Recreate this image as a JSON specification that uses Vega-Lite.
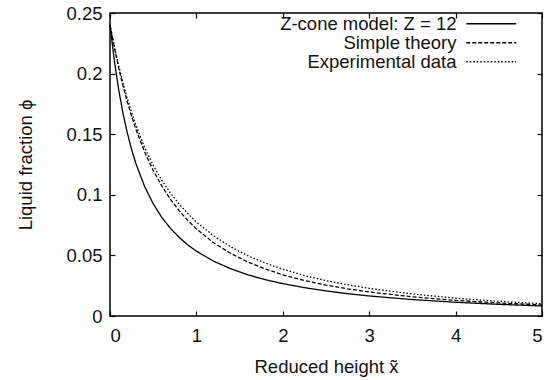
{
  "$schema": "https://vega.github.io/schema/vega-lite/v6.json",
  "width": 432,
  "height": 303,
  "autosize": "none",
  "padding": {"left": 110, "top": 13, "right": 16, "bottom": 64},
  "config": {
    "font": "Liberation Sans",
    "view": {"stroke": "#000", "strokeWidth": 1.5},
    "axis": {
      "grid": false, "domain": false, "tickColor": "#000", "tickSize": -5, "tickWidth": 1.2,
      "labelFontSize": 18.5, "labelColor": "#111", "labelFont": "Liberation Sans",
      "titleFontSize": 18.5, "titleFontWeight": "normal", "titleColor": "#111", "titleFont": "Liberation Sans"
    }
  },
  "data": {"values": [
    {"series": "Z-cone model: Z = 12", "x": 0, "phi": 0.2403},
    {"series": "Z-cone model: Z = 12", "x": 0.05, "phi": 0.2108},
    {"series": "Z-cone model: Z = 12", "x": 0.1, "phi": 0.187},
    {"series": "Z-cone model: Z = 12", "x": 0.15, "phi": 0.1674},
    {"series": "Z-cone model: Z = 12", "x": 0.2, "phi": 0.1511},
    {"series": "Z-cone model: Z = 12", "x": 0.25, "phi": 0.1374},
    {"series": "Z-cone model: Z = 12", "x": 0.3, "phi": 0.1257},
    {"series": "Z-cone model: Z = 12", "x": 0.4, "phi": 0.107},
    {"series": "Z-cone model: Z = 12", "x": 0.5, "phi": 0.0926},
    {"series": "Z-cone model: Z = 12", "x": 0.6, "phi": 0.0813},
    {"series": "Z-cone model: Z = 12", "x": 0.7, "phi": 0.0723},
    {"series": "Z-cone model: Z = 12", "x": 0.8, "phi": 0.0649},
    {"series": "Z-cone model: Z = 12", "x": 0.9, "phi": 0.0587},
    {"series": "Z-cone model: Z = 12", "x": 1.0, "phi": 0.0535},
    {"series": "Z-cone model: Z = 12", "x": 1.2, "phi": 0.0452},
    {"series": "Z-cone model: Z = 12", "x": 1.4, "phi": 0.0389},
    {"series": "Z-cone model: Z = 12", "x": 1.6, "phi": 0.0339},
    {"series": "Z-cone model: Z = 12", "x": 1.8, "phi": 0.0299},
    {"series": "Z-cone model: Z = 12", "x": 2.0, "phi": 0.0267},
    {"series": "Z-cone model: Z = 12", "x": 2.25, "phi": 0.0234},
    {"series": "Z-cone model: Z = 12", "x": 2.5, "phi": 0.0207},
    {"series": "Z-cone model: Z = 12", "x": 2.75, "phi": 0.0184},
    {"series": "Z-cone model: Z = 12", "x": 3.0, "phi": 0.01653},
    {"series": "Z-cone model: Z = 12", "x": 3.5, "phi": 0.01356},
    {"series": "Z-cone model: Z = 12", "x": 4.0, "phi": 0.01133},
    {"series": "Z-cone model: Z = 12", "x": 4.5, "phi": 0.00962},
    {"series": "Z-cone model: Z = 12", "x": 5.0, "phi": 0.00827},
    {"series": "Simple theory", "x": 0, "phi": 0.2403},
    {"series": "Simple theory", "x": 0.05, "phi": 0.2216},
    {"series": "Simple theory", "x": 0.1, "phi": 0.2049},
    {"series": "Simple theory", "x": 0.15, "phi": 0.1901},
    {"series": "Simple theory", "x": 0.2, "phi": 0.1768},
    {"series": "Simple theory", "x": 0.25, "phi": 0.1649},
    {"series": "Simple theory", "x": 0.3, "phi": 0.1541},
    {"series": "Simple theory", "x": 0.4, "phi": 0.1356},
    {"series": "Simple theory", "x": 0.5, "phi": 0.1201},
    {"series": "Simple theory", "x": 0.6, "phi": 0.1072},
    {"series": "Simple theory", "x": 0.7, "phi": 0.0963},
    {"series": "Simple theory", "x": 0.8, "phi": 0.0869},
    {"series": "Simple theory", "x": 0.9, "phi": 0.0789},
    {"series": "Simple theory", "x": 1.0, "phi": 0.0719},
    {"series": "Simple theory", "x": 1.2, "phi": 0.0604},
    {"series": "Simple theory", "x": 1.4, "phi": 0.0515},
    {"series": "Simple theory", "x": 1.6, "phi": 0.0444},
    {"series": "Simple theory", "x": 1.8, "phi": 0.0387},
    {"series": "Simple theory", "x": 2.0, "phi": 0.034},
    {"series": "Simple theory", "x": 2.25, "phi": 0.0293},
    {"series": "Simple theory", "x": 2.5, "phi": 0.0255},
    {"series": "Simple theory", "x": 2.75, "phi": 0.0224},
    {"series": "Simple theory", "x": 3.0, "phi": 0.0198},
    {"series": "Simple theory", "x": 3.5, "phi": 0.0158},
    {"series": "Simple theory", "x": 4.0, "phi": 0.0129},
    {"series": "Simple theory", "x": 4.5, "phi": 0.01075},
    {"series": "Simple theory", "x": 5.0, "phi": 0.00909},
    {"series": "Experimental data", "x": 0, "phi": 0.2403},
    {"series": "Experimental data", "x": 0.05, "phi": 0.2225},
    {"series": "Experimental data", "x": 0.1, "phi": 0.2066},
    {"series": "Experimental data", "x": 0.15, "phi": 0.1924},
    {"series": "Experimental data", "x": 0.2, "phi": 0.1795},
    {"series": "Experimental data", "x": 0.25, "phi": 0.168},
    {"series": "Experimental data", "x": 0.3, "phi": 0.1575},
    {"series": "Experimental data", "x": 0.4, "phi": 0.1392},
    {"series": "Experimental data", "x": 0.5, "phi": 0.1244},
    {"series": "Experimental data", "x": 0.6, "phi": 0.1119},
    {"series": "Experimental data", "x": 0.7, "phi": 0.1014},
    {"series": "Experimental data", "x": 0.8, "phi": 0.0924},
    {"series": "Experimental data", "x": 0.9, "phi": 0.0845},
    {"series": "Experimental data", "x": 1.0, "phi": 0.0776},
    {"series": "Experimental data", "x": 1.2, "phi": 0.0661},
    {"series": "Experimental data", "x": 1.4, "phi": 0.057},
    {"series": "Experimental data", "x": 1.6, "phi": 0.0496},
    {"series": "Experimental data", "x": 1.8, "phi": 0.0436},
    {"series": "Experimental data", "x": 2.0, "phi": 0.0386},
    {"series": "Experimental data", "x": 2.25, "phi": 0.0334},
    {"series": "Experimental data", "x": 2.5, "phi": 0.0292},
    {"series": "Experimental data", "x": 2.75, "phi": 0.0258},
    {"series": "Experimental data", "x": 3.0, "phi": 0.0228},
    {"series": "Experimental data", "x": 3.5, "phi": 0.0182},
    {"series": "Experimental data", "x": 4.0, "phi": 0.0147},
    {"series": "Experimental data", "x": 4.5, "phi": 0.0121},
    {"series": "Experimental data", "x": 5.0, "phi": 0.0101}
  ]},
  "layer": [
    {
      "mark": {"type": "line", "color": "#000", "strokeWidth": 1.3},
      "encoding": {
        "x": {"field": "x", "type": "quantitative",
              "scale": {"domain": [0, 5], "nice": false},
              "axis": {"orient": "bottom", "values": [0, 1, 2, 3, 4, 5], "format": "d", "title": "Reduced height x̃", "labelPadding": 15, "titlePadding": 13}},
        "y": {"field": "phi", "type": "quantitative",
              "scale": {"domain": [0, 0.25], "nice": false},
              "axis": {"orient": "left", "values": [0, 0.05, 0.1, 0.15, 0.2, 0.25], "format": "~g", "title": "Liquid fraction ϕ", "labelPadding": 13, "titlePadding": 30}},
        "strokeDash": {"field": "series", "type": "nominal",
              "scale": {"domain": ["Z-cone model: Z = 12", "Simple theory", "Experimental data"], "range": [[1, 0], [4, 2], [1.5, 2]]},
              "legend": {"orient": "none", "legendX": 372, "legendY": 1.5, "title": null, "padding": 0,
                         "symbolType": "M-4,0H4", "symbolSize": 156, "symbolStrokeWidth": 1.3, "symbolStrokeColor": "#000", "symbolFillColor": "transparent",
                         "labelAlign": "right", "labelOffset": -44, "labelLimit": 400, "labelFontSize": 18.5, "labelColor": "#111", "rowPadding": -0.5}}
      }
    },
    {
      "mark": {"type": "line", "strokeOpacity": 0},
      "encoding": {
        "x": {"field": "x", "type": "quantitative", "axis": {"orient": "top", "values": [0, 1, 2, 3, 4, 5], "labels": false, "title": null}},
        "y": {"field": "phi", "type": "quantitative", "axis": {"orient": "right", "values": [0, 0.05, 0.1, 0.15, 0.2, 0.25], "labels": false, "title": null}},
        "detail": {"field": "series", "type": "nominal"}
      }
    }
  ]
}
